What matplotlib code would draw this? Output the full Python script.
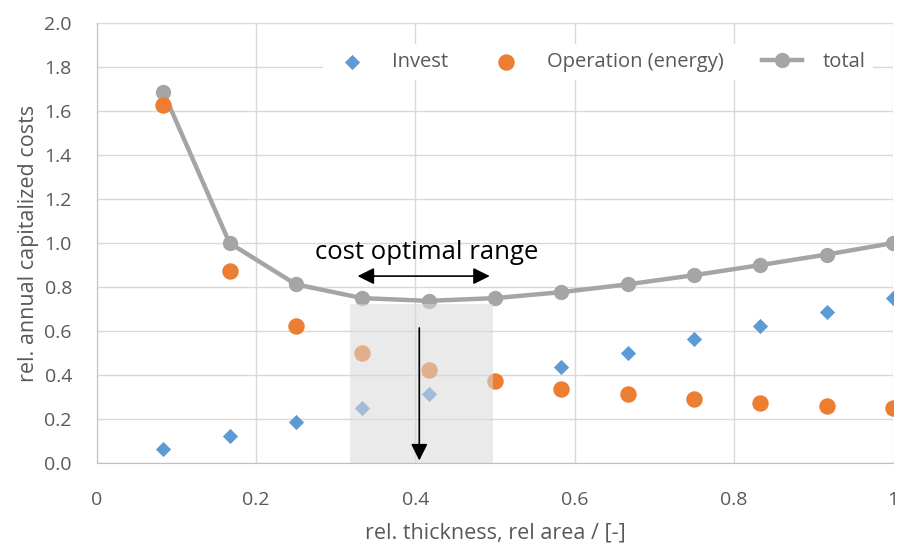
import matplotlib.pyplot as plt
from matplotlib.patches import Rectangle

# values
x = [0.0833, 0.1667, 0.25, 0.3333, 0.4167, 0.5, 0.5833, 0.6667, 0.75, 0.8333, 0.9167, 1.0]
invest = [0.0625, 0.125, 0.1875, 0.25, 0.3125, 0.375, 0.4375, 0.5, 0.5625, 0.625, 0.6875, 0.75]
operation = [1.625, 0.875, 0.625, 0.5, 0.425, 0.375, 0.339, 0.3125, 0.292, 0.275, 0.261, 0.25]
total = [1.6875, 1.0, 0.8125, 0.75, 0.7375, 0.75, 0.777, 0.8125, 0.854, 0.9, 0.948, 1.0]
xticks = [0, 0.2, 0.4, 0.6, 0.8, 1]
xticklabels = ['0', '0.2', '0.4', '0.6', '0.8', '1']

plt.rcParams['font.family'] = ['Open Sans', 'DejaVu Sans']
txt = '#595959'

fig = plt.figure(figsize=(8.97, 5.45), dpi=100)
ax = fig.add_axes([0.108, 0.150, 0.8875, 0.808])

ax.plot(x, total, color='#a5a5a5', lw=3.2, marker='o', ms=10, label='total', zorder=3)
ax.scatter(x, invest, marker='D', s=60, color='#5b9bd5', label='Invest', zorder=3, linewidths=0)
ax.scatter(x, operation, marker='o', s=140, color='#ed7d31', label='Operation (energy)', zorder=3, linewidths=0)

ax.add_patch(Rectangle((0.318, 0), 0.179, 0.723, facecolor='#d9d9d9', alpha=0.55,
                       edgecolor='none', zorder=4))

ax.annotate('', xy=(0.405, 0.0), xytext=(0.405, 0.627),
            arrowprops=dict(arrowstyle='-|>', color='black', lw=1.2, mutation_scale=25), zorder=5)
ax.annotate('', xy=(0.324, 0.85), xytext=(0.497, 0.85),
            arrowprops=dict(arrowstyle='<|-|>', color='black', lw=1.2, mutation_scale=25), zorder=5)
ax.text(0.414, 0.955, 'cost optimal range', fontsize=18.5, ha='center', va='center', color='black', zorder=5)

ax.set_xlim(0, 1)
ax.set_ylim(0, 2.0)
ax.set_xticks(xticks)
ax.set_xticklabels(xticklabels)
ax.set_yticks([i * 0.2 for i in range(11)])
ax.set_yticklabels(['%.1f' % (i * 0.2) for i in range(11)])
ax.grid(True, color='#d9d9d9', lw=1)
ax.set_axisbelow(True)
for s in ['top', 'right']:
    ax.spines[s].set_visible(False)
for s in ['left', 'bottom']:
    ax.spines[s].set_color('#bfbfbf')
ax.tick_params(length=0, labelsize=14, colors=txt, pad=18)
ax.tick_params(axis='x', pad=20)
ax.set_xlabel('rel. thickness, rel area / [-]', fontsize=15.5, color=txt, labelpad=10)
ax.set_ylabel('rel. annual capitalized costs', fontsize=15.5, color=txt, labelpad=4)

h, l = ax.get_legend_handles_labels()
order = [1, 2, 0]
leg = ax.legend([h[i] for i in order], [l[i] for i in order], ncol=3, loc='center right',
                bbox_to_anchor=(0.975, 0.911), frameon=True, fancybox=False, edgecolor='none',
                framealpha=1, fontsize=14.5, handlelength=2.0, columnspacing=1.9,
                handletextpad=1.0, borderaxespad=0)
for t in leg.get_texts():
    t.set_color(txt)

fig.savefig('out.png', dpi=100)
